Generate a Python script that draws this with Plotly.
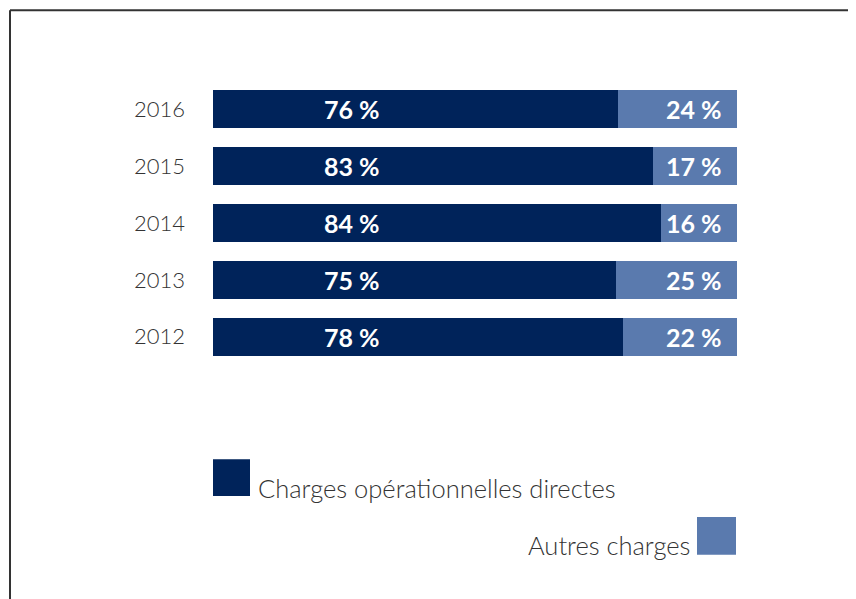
import plotly.graph_objects as go

years = ["2012", "2013", "2014", "2015", "2016"]
# percentages as labelled
directes = [78, 75, 84, 83, 76]
autres = [22, 25, 16, 17, 24]
# bar lengths as drawn in the picture (share of full bar, %)
directes_drawn = [78.3, 77.0, 85.4, 84.0, 77.3]
autres_drawn = [21.7, 23.0, 14.6, 16.0, 22.7]
series_names = ["Charges opérationnelles directes", "Autres charges"]
colors = ["#00235a", "#5a7aae"]

OFF = 8  # page body offset
L, R, T, B = 213 - OFF, 856 - 737 + OFF, 80.5 - OFF, 599 - 365.5 + OFF
W = 856 - L - R
H = 599 - T - B


def px(x):
    return (x - OFF - L) / W


def py(y):
    return (599 - B - (y - OFF)) / H


fig = go.Figure()
fig.add_trace(go.Bar(y=years, x=directes_drawn, orientation="h", marker_color=colors[0],
                     marker_line_width=0, name=series_names[0], hoverinfo="skip"))
fig.add_trace(go.Bar(y=years, x=autres_drawn, orientation="h", marker_color=colors[1],
                     marker_line_width=0, name=series_names[1], hoverinfo="skip"))

label_font = dict(family="Lato", size=25, color="white", weight="bold")
for i, (a, b) in enumerate(zip(directes, autres)):
    fig.add_annotation(x=26.5, y=i, xref="x", yref="y", text=f"{a} %", showarrow=False,
                       font=label_font, xanchor="center", yanchor="middle")
    fig.add_annotation(x=97.6, y=i, xref="x", yref="y", text=f"{b} %", showarrow=False,
                       font=label_font, xanchor="right", yanchor="middle")

# legend (custom)
fig.add_shape(type="rect", xref="paper", yref="paper", x0=px(213), x1=px(250), y0=py(497), y1=py(460),
              fillcolor=colors[0], line_width=0)
fig.add_shape(type="rect", xref="paper", yref="paper", x0=px(697), x1=px(736), y0=py(556), y1=py(518),
              fillcolor=colors[1], line_width=0)
leg_font = dict(family="Lato", size=25.5, color="#333333", weight=300)
fig.add_annotation(x=px(256), y=py(489), xref="paper", yref="paper",
                   text=series_names[0], showarrow=False, font=leg_font,
                   xanchor="left", yanchor="middle")
fig.add_annotation(x=px(692), y=py(546), xref="paper", yref="paper",
                   text=series_names[1], showarrow=False, font=leg_font,
                   xanchor="right", yanchor="middle")

# frame (top and left lines)
fig.add_shape(type="line", xref="paper", yref="paper", x0=px(10), x1=px(900),
              y0=py(9.5), y1=py(9.5), line=dict(color="#333333", width=2))
fig.add_shape(type="line", xref="paper", yref="paper", x0=px(10), x1=px(10),
              y0=py(9.5), y1=py(620), line=dict(color="#333333", width=2))

fig.update_layout(
    width=856, height=599,
    barmode="stack", bargap=0.333,
    showlegend=False,
    plot_bgcolor="white", paper_bgcolor="white",
    margin=dict(l=L, r=R, t=T, b=B),
    xaxis=dict(range=[0, 100], visible=False, fixedrange=True),
    yaxis=dict(type="category", categoryorder="array", categoryarray=years, range=[-0.5, 4.5],
               showgrid=False, zeroline=False, showline=False, ticks="",
               ticklabelstandoff=27,
               tickfont=dict(family="Lato", size=22, color="#333333", weight=300)),
)

fig.write_html("out.html")
